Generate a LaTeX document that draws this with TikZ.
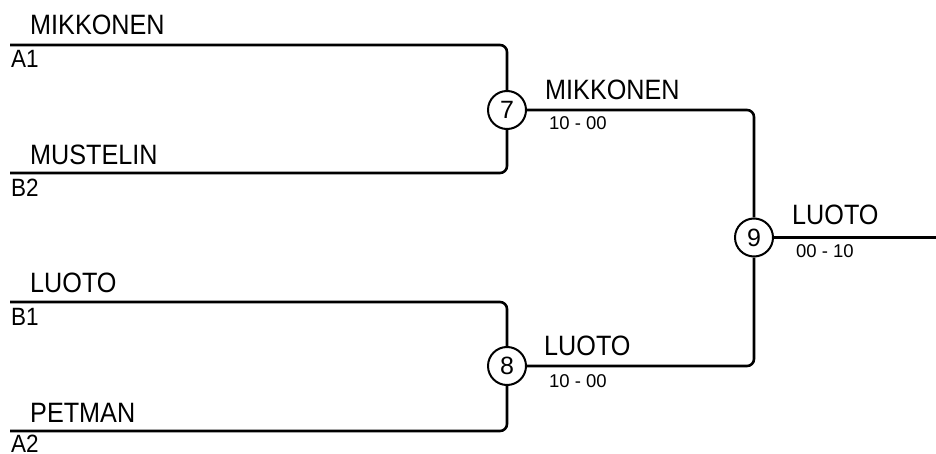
\documentclass[tikz,border=0pt]{standalone}
\usepackage{fontspec}
\setmainfont{Liberation Sans}
\newfontfamily\condfont[FakeStretch=0.9]{Liberation Sans}
\begin{document}
\begin{tikzpicture}[x=1pt,y=-1pt,
  bline/.style={line width=2.6pt,rounded corners=7pt},
  matchc/.style={circle,draw,line width=2pt,minimum size=38pt,inner sep=0pt,fill=white,font=\fontsize{25}{25}\selectfont},
  player/.style={anchor=base west,inner sep=0pt,font=\condfont\fontsize{28}{28}\selectfont},
  seedtxt/.style={anchor=base west,inner sep=0pt,font=\condfont\fontsize{25}{25}\selectfont},
  scoretxt/.style={anchor=base west,inner sep=0pt,font=\fontsize{18.5}{18.5}\selectfont}]
\useasboundingbox (0,0) rectangle (936,454);
% match circles
\node[matchc] (m7) at (507,110) {7};
\node[matchc] (m8) at (507,366) {8};
\node[matchc] (m9) at (754,237.5) {9};
% line start points
\coordinate (a1) at (10,45);
\coordinate (b2) at (10,173);
\coordinate (b1) at (10,302);
\coordinate (a2) at (10,431);
\coordinate (fin) at (936,237.5);
% lines
\draw[bline] (a1) -| (m7.north);
\draw[bline] (b2) -| (m7.south);
\draw[bline] (b1) -| (m8.north);
\draw[bline] (a2) -| (m8.south);
\draw[bline] (m7.east) -| (m9.north);
\draw[bline] (m8.east) -| (m9.south);
\draw[bline] (m9.east) -- (fin);
% player names and seeds
\node[player] (n1) at (30,35) {MIKKONEN};
\node[seedtxt] (s1) at (11,68) {A1};
\node[player] (n2) at (30,165) {MUSTELIN};
\node[seedtxt] (s2) at (11,197) {B2};
\node[player] (n3) at (30,292) {LUOTO};
\node[seedtxt] (s3) at (11,325) {B1};
\node[player] (n4) at (30,422) {PETMAN};
\node[seedtxt] (s4) at (11,452) {A2};
% winners and scores
\node[player] (w7) at (545,100) {MIKKONEN};
\node[scoretxt] (r7) at (549,130) {10 - 00};
\node[player] (w8) at (544,355) {LUOTO};
\node[scoretxt] (r8) at (549,387) {10 - 00};
\node[player] (w9) at (792,225) {LUOTO};
\node[scoretxt] (r9) at (796,257) {00 - 10};
\end{tikzpicture}
\end{document}
